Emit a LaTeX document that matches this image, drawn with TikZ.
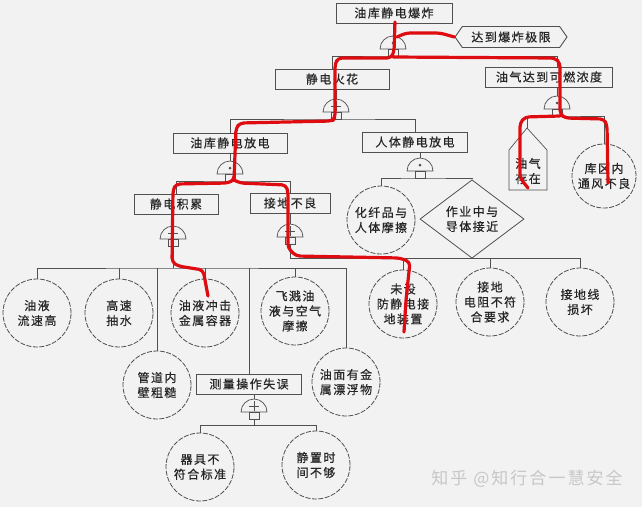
\documentclass[tikz,border=0pt]{standalone}
\usepackage{fontspec}
\usetikzlibrary{shapes.geometric, shapes.symbols}
\newfontfamily\zhfont[LetterSpace=12, FakeBold=0.4]{Noto Sans CJK SC}
\newfontfamily\zhlight[LetterSpace=12]{Noto Sans CJK SC}
\definecolor{PaperGray}{RGB}{242,242,242}
\definecolor{InkGray}{RGB}{80,80,80}
\definecolor{MarkRed}{RGB}{222,12,16}
\tikzset{
  zhtext/.style={font=\zhfont\fontsize{12}{15}\selectfont, text=black!85},
  evbox/.style={zhtext, draw=InkGray, line width=0.9pt, inner sep=1pt, minimum height=20pt},
  limitbox/.style={zhtext, signal, signal to=east and west, signal pointer angle=110,
    draw=InkGray, line width=0.9pt, inner sep=1pt, minimum height=21pt},
  basic/.style={zhtext, circle, draw=InkGray, line width=0.8pt, dash pattern=on 5pt off 1.5pt,
    minimum size=68pt, inner sep=0pt, align=center},
  cond/.style={zhtext, diamond, draw=InkGray, line width=0.8pt, minimum width=104pt,
    minimum height=62pt, inner sep=0pt, align=center},
  link/.style={draw=InkGray, line width=0.7pt},
  markpen/.style={draw=MarkRed, line width=3.2pt, line cap=round, line join=round, rounded corners=4pt},
  andgate/.pic={
    \draw[link] (-13,0) arc[start angle=180, end angle=0, radius=13] -- cycle;
    \draw[link] (-5,0) rectangle (5,-7);
    \fill[InkGray] (0,6) circle[radius=1.5];
    \coordinate (-top) at (0,13);
    \coordinate (-foot) at (0,-7);
  },
  orgate/.pic={
    \draw[link] (-13,0) arc[start angle=180, end angle=0, radius=13] -- cycle;
    \draw[link] (-5,0) rectangle (5,-7);
    \draw[link] (0,1) -- (0,11) (-5,6) -- (5,6);
    \coordinate (-top) at (0,13);
    \coordinate (-foot) at (0,-7);
  }
}

\begin{document}
\begin{tikzpicture}[x=1pt, y=1pt]
  \fill[PaperGray] (0,0) rectangle (642,-507);
  \useasboundingbox (0,0) rectangle (642,-507);

  % Events
  \node[evbox, minimum width=116pt] (top) at (394,-13) {油库静电爆炸};
  \node[limitbox, minimum width=112pt] (limit) at (511,-37) {达到爆炸极限};
  \node[evbox, minimum width=114pt] (spark) at (332,-79) {静电火花};
  \node[evbox, minimum width=127pt] (vapor) at (549,-77) {油气达到可燃浓度};
  \node[evbox, minimum width=114pt] (tankdis) at (230,-143) {油库静电放电};
  \node[evbox, minimum width=105pt] (bodydis) at (415,-142) {人体静电放电};
  \node[evbox, minimum width=84pt] (accum) at (176,-204) {静电积累};
  \node[evbox, minimum width=80pt] (ground) at (290,-203) {接地不良};
  \node[evbox, minimum width=105pt] (measure) at (249,-384) {测量操作失误};

  % Basic events
  \node[basic] (flow) at (37,-313) {油液\\流速高};
  \node[basic] (pump) at (119,-313) {高速\\抽水};
  \node[basic] (impact) at (205,-313) {油液冲击\\金属容器};
  \node[basic] (splash) at (295,-311) {飞溅油\\液与空气\\摩擦};
  \node[basic] (pipe) at (157,-385) {管道内\\壁粗糙};
  \node[basic] (float) at (346,-382) {油面有金\\属漂浮物};
  \node[basic] (tool) at (200,-467) {器具不\\符合标准};
  \node[basic] (rest) at (316,-465) {静置时\\间不够};
  \node[basic] (fiber) at (381,-220) {化纤品与\\人体摩擦};
  \node[basic] (noground) at (403,-304) {未设\\防静电接\\地装置};
  \node[basic] (resist) at (490,-302) {接地\\电阻不符\\合要求};
  \node[basic] (wire) at (580,-302) {接地线\\损坏};
  \node[basic, minimum size=64pt] (vent) at (604,-176) {库区内\\通风不良};
  \node[cond] (near) at (472,-219) {作业中与\\导体接近};

  % House event
  \node[zhtext, align=center] (oilgas) at (528,-171) {油气\\存在};
  \coordinate (roof) at (527,-128);
  \draw[link] (roof) -- (547,-150) -- (547,-190) -- (509,-190) -- (509,-150) -- cycle;

  % Gates
  \pic (g1) at (393,-49) {andgate};
  \pic (g2) at (336,-112) {orgate};
  \pic (g3) at (557,-109) {andgate};
  \pic (g4) at (230,-174) {andgate};
  \pic (g5) at (420,-171) {andgate};
  \pic (g6) at (173,-239) {orgate};
  \pic (g7) at (290,-237) {orgate};
  \pic (g8) at (254,-412) {orgate};

  % Connectors
  \draw[link] (top.south -| g1-top) -- (g1-top);
  \draw[link] (spark.north) |- (g1-foot) -| (vapor.north -| g3-top);
  \draw[link] (spark.south -| g2-top) -- (g2-top);
  \draw[link] (vapor.south -| g3-top) -- (g3-top);

  \draw[link] (tankdis.north) |- (g2-foot) -| (bodydis.north);
  \draw[link] (tankdis.south -| g4-top) -- (g4-top);
  \draw[link] (bodydis.south -| g5-top) -- (g5-top);

  \draw[link] (roof) |- (g3-foot) -| (vent.north);
  \draw[link] (fiber.north) |- (g5-foot) -| (near.north);

  \draw[link] (accum.north) |- (g4-foot) -| (ground.north);
  \draw[link] (accum.south -| g6-top) -- (g6-top);
  \draw[link] (ground.south) -- (g7-top);

  \coordinate (bus6) at (173,-268);
  \draw[link] (g6-foot) -- (bus6);
  \draw[link] (flow.north) |- (bus6) -| (float.north);
  \draw[link] (pump.north) -- (pump.north |- bus6);
  \draw[link] (impact.north) -- (impact.north |- bus6);
  \draw[link] (pipe.north) -- (pipe.north |- bus6);
  \draw[link] (measure.north) -- (measure.north |- bus6);
  \draw[link] (splash.north) -- (splash.north |- bus6);

  \coordinate (bus7) at (290,-258);
  \draw[link] (g7-foot) -- (bus7) -| (wire.north);
  \draw[link] (noground.north) -- (noground.north |- bus7);
  \draw[link] (resist.north) -- (resist.north |- bus7);

  \draw[link] (measure.south -| g8-top) -- (g8-top);
  \coordinate (bus8) at (254,-425);
  \draw[link] (g8-foot) -- (bus8);
  \draw[link] (tool.north) |- (bus8) -| (rest.north);

  % Red marks
  \draw[markpen] (395,-22) -- (394,-52) -- (391,-58) -- (338,-58) -- (335,-64) -- (335,-118)
    -- (332,-121) -- (240,-123) -- (236,-128) -- (234,-180) -- (228,-183) -- (176,-184)
    -- (173,-190) -- (172,-262) -- (178,-266) -- (203,-270) -- (205,-280) -- (208,-296);
  \draw[markpen] (234,-180) -- (240,-183) -- (286,-185) -- (288,-192) -- (288,-248)
    -- (296,-256) -- (400,-258) -- (410,-262) -- (406,-300) -- (404,-332);
  \draw[markpen] (393,-57) -- (555,-58) -- (560,-63) -- (560,-114) -- (565,-118)
    -- (604,-119) -- (607,-125) -- (608,-183);
  \draw[markpen] (560,-116) -- (525,-117) -- (520,-123) -- (520,-178) -- (528,-188);
  \draw[markpen] (397,-37) -- (406,-33) -- (440,-33) -- (limit.west);

  % Watermark
  \node[font=\zhlight\fontsize{17}{17}\selectfont, text=white!78!black] (mark) at (527,-479) {知乎 @知行合一慧安全};
\end{tikzpicture}
\end{document}
